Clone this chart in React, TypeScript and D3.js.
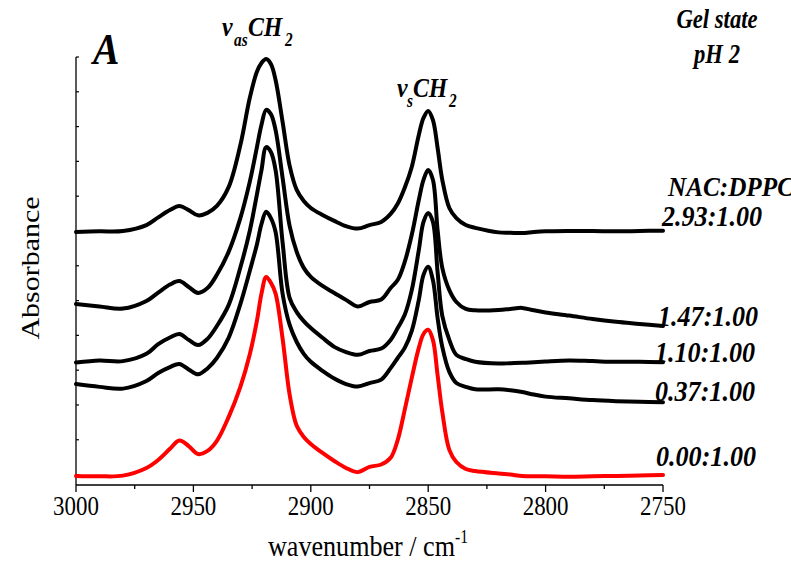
import React from 'react';
import * as d3 from 'd3';

const wavenumbers = [3000, 2990, 2980, 2970, 2965, 2960, 2956, 2952, 2948, 2944, 2940, 2935, 2930, 2926, 2923, 2921, 2919, 2917, 2915, 2912, 2909, 2906, 2903, 2900, 2895, 2890, 2885, 2880, 2875, 2870, 2866, 2863, 2860, 2857, 2854, 2852, 2850, 2848, 2846, 2844, 2841, 2838, 2834, 2830, 2820, 2815, 2810, 2805, 2800, 2790, 2780, 2770, 2760, 2750];

const abs293 = [0.697, 0.699, 0.700, 0.717, 0.739, 0.760, 0.772, 0.760, 0.745, 0.752, 0.772, 0.826, 0.947, 1.082, 1.157, 1.183, 1.194, 1.180, 1.134, 1.013, 0.887, 0.818, 0.786, 0.766, 0.746, 0.729, 0.714, 0.707, 0.717, 0.726, 0.749, 0.778, 0.824, 0.884, 0.976, 1.025, 1.045, 1.019, 0.939, 0.847, 0.766, 0.737, 0.717, 0.709, 0.696, 0.695, 0.694, 0.697, 0.699, 0.700, 0.700, 0.699, 0.700, 0.701];
const abs147 = [0.490, 0.483, 0.477, 0.499, 0.523, 0.546, 0.556, 0.539, 0.522, 0.536, 0.574, 0.640, 0.737, 0.841, 0.939, 1.005, 1.048, 1.036, 0.990, 0.852, 0.714, 0.640, 0.594, 0.568, 0.542, 0.522, 0.502, 0.483, 0.496, 0.503, 0.536, 0.559, 0.611, 0.689, 0.789, 0.847, 0.875, 0.847, 0.703, 0.594, 0.530, 0.496, 0.476, 0.472, 0.473, 0.476, 0.479, 0.472, 0.466, 0.457, 0.447, 0.439, 0.433, 0.427];
const abs110 = [0.322, 0.328, 0.326, 0.347, 0.375, 0.394, 0.404, 0.387, 0.372, 0.390, 0.427, 0.487, 0.595, 0.700, 0.803, 0.875, 0.941, 0.927, 0.875, 0.666, 0.507, 0.467, 0.441, 0.421, 0.393, 0.367, 0.352, 0.344, 0.355, 0.362, 0.387, 0.421, 0.459, 0.530, 0.645, 0.726, 0.752, 0.726, 0.582, 0.456, 0.387, 0.344, 0.332, 0.324, 0.319, 0.320, 0.321, 0.323, 0.325, 0.328, 0.326, 0.324, 0.324, 0.323];
const abs037 = [0.260, 0.252, 0.247, 0.269, 0.292, 0.309, 0.318, 0.302, 0.288, 0.305, 0.335, 0.393, 0.490, 0.585, 0.660, 0.720, 0.755, 0.737, 0.697, 0.519, 0.430, 0.381, 0.347, 0.324, 0.298, 0.276, 0.260, 0.253, 0.263, 0.273, 0.306, 0.335, 0.364, 0.413, 0.502, 0.574, 0.597, 0.559, 0.450, 0.367, 0.295, 0.263, 0.252, 0.245, 0.245, 0.242, 0.237, 0.230, 0.224, 0.219, 0.214, 0.211, 0.209, 0.208];
const abs000 = [-0.004, -0.005, -0.003, 0.019, 0.042, 0.074, 0.098, 0.082, 0.059, 0.068, 0.097, 0.165, 0.252, 0.345, 0.440, 0.520, 0.568, 0.551, 0.520, 0.390, 0.229, 0.140, 0.108, 0.088, 0.062, 0.039, 0.019, 0.007, 0.022, 0.029, 0.048, 0.099, 0.186, 0.278, 0.364, 0.404, 0.416, 0.387, 0.286, 0.180, 0.071, 0.036, 0.016, 0.010, 0.003, 0.000, -0.004, -0.005, -0.005, -0.006, -0.005, -0.004, -0.003, -0.001];

const seriesValues = [abs293, abs147, abs110, abs037, abs000];
const seriesColors = ['#000000', '#000000', '#000000', '#000000', '#ff0000'];
const seriesLabels = ['2.93:1.00', '1.47:1.00', '1.10:1.00', '0.37:1.00', '0.00:1.00'];

const xMajorTicks = [3000, 2950, 2900, 2850, 2800, 2750];
const xMinorTicks = [2975, 2925, 2875, 2825, 2775];
const yTicks = [0, 0.1, 0.2, 0.3, 0.4, 0.5, 0.6, 0.7, 0.8, 0.9, 1.0, 1.1, 1.2];

const FONT = '"Liberation Serif", "Times New Roman", Times, serif';

const T = ({ x, y, sx = 0.87, size, bold = false, italic = false, anchor = 'start', children }: any) => (
  <text
    transform={`translate(${x},${y}) scale(${sx},1)`}
    fontFamily={FONT}
    fontSize={size}
    fontWeight={bold ? 'bold' : 'normal'}
    fontStyle={italic ? 'italic' : 'normal'}
    textAnchor={anchor}
    fill="#000"
  >
    {children}
  </text>
);

export default function App() {
  const W = 791, H = 572;
  const x = d3.scaleLinear().domain([3000, 2750]).range([76, 663]);
  const y = d3.scaleLinear().domain([-0.03, 1.2]).range([485, 57]);
  const line = d3
    .line<number>()
    .x((_, i) => x(wavenumbers[i]))
    .y((d) => y(d))
    .curve(d3.curveCatmullRom.alpha(0.5));

  const labelPos = [
    { x: 662, y: 226 },
    { x: 658, y: 326 },
    { x: 655, y: 362 },
    { x: 655, y: 401 },
    { x: 656, y: 466 },
  ];

  return (
    <div style={{ position: 'absolute', left: 0, top: 0 }}>
      <svg width={W} height={H} style={{ display: 'block', background: '#fff' }}>
        {/* axes */}
        <line x1={x(3000)} x2={x(3000)} y1={y(1.2)} y2={y(-0.03)} stroke="#000" strokeWidth={1.3} />
        <line x1={x(3000)} x2={x(2750)} y1={y(-0.03)} y2={y(-0.03)} stroke="#000" strokeWidth={1.3} />
        {yTicks.map((t) => (
          <line key={'yt' + t} x1={x(3000)} x2={x(3000) + 3} y1={y(t)} y2={y(t)} stroke="#000" strokeWidth={1.2} />
        ))}
        {xMajorTicks.map((t) => (
          <line key={'xM' + t} x1={x(t)} x2={x(t)} y1={y(-0.03)} y2={y(-0.03) + 7} stroke="#000" strokeWidth={1.3} />
        ))}
        {xMinorTicks.map((t) => (
          <line key={'xm' + t} x1={x(t)} x2={x(t)} y1={y(-0.03)} y2={y(-0.03) + 4} stroke="#000" strokeWidth={1.3} />
        ))}
        {xMajorTicks.map((t) => (
          <T key={'xl' + t} x={x(t)} y={515} size={27} sx={0.85} anchor="middle">{String(t)}</T>
        ))}

        {/* spectra */}
        {seriesValues.map((vals, i) => (
          <path
            key={'s' + i}
            d={line(vals) || ''}
            fill="none"
            stroke={seriesColors[i]}
            strokeWidth={4}
            strokeLinejoin="round"
            strokeLinecap="round"
          />
        ))}

        {/* series labels */}
        {seriesLabels.map((l, i) => (
          <T key={'lab' + i} x={labelPos[i].x} y={labelPos[i].y} size={29} sx={0.9} bold italic>{l}</T>
        ))}
        <T x={668} y={196} size={28} sx={0.9} bold italic>NAC:DPPC</T>

        <T x={717} y={28} size={27} sx={0.84} bold italic anchor="middle">Gel state</T>
        <T x={717} y={63} size={27} sx={0.84} bold italic anchor="middle">pH 2</T>

        <T x={93} y={64} size={44} sx={0.9} bold italic>A</T>

        {/* band labels */}
        <T x={222} y={36} size={28} sx={0.85} bold italic>ν</T>
        <T x={234} y={46} size={18} sx={0.85} bold italic>as</T>
        <T x={248} y={36} size={28} sx={0.85} bold italic>CH</T>
        <T x={285} y={46} size={18} sx={0.85} bold italic>2</T>

        <T x={397} y={97} size={28} sx={0.85} bold italic>ν</T>
        <T x={407} y={107} size={18} sx={0.85} bold italic>s</T>
        <T x={413} y={97} size={28} sx={0.85} bold italic>CH</T>
        <T x={449} y={107} size={18} sx={0.85} bold italic>2</T>

        {/* axis titles */}
        <text
          transform="translate(39,268) rotate(-90) scale(1,0.87)"
          fontFamily={FONT}
          fontSize={30}
          textAnchor="middle"
          fill="#000"
        >
          Absorbance
        </text>
        <text transform="translate(368,556) scale(0.87,1)" fontFamily={FONT} fontSize={30} textAnchor="middle" fill="#000">
          wavenumber / cm<tspan fontSize={18} dy={-13}>-1</tspan>
        </text>
      </svg>
    </div>
  );
}
